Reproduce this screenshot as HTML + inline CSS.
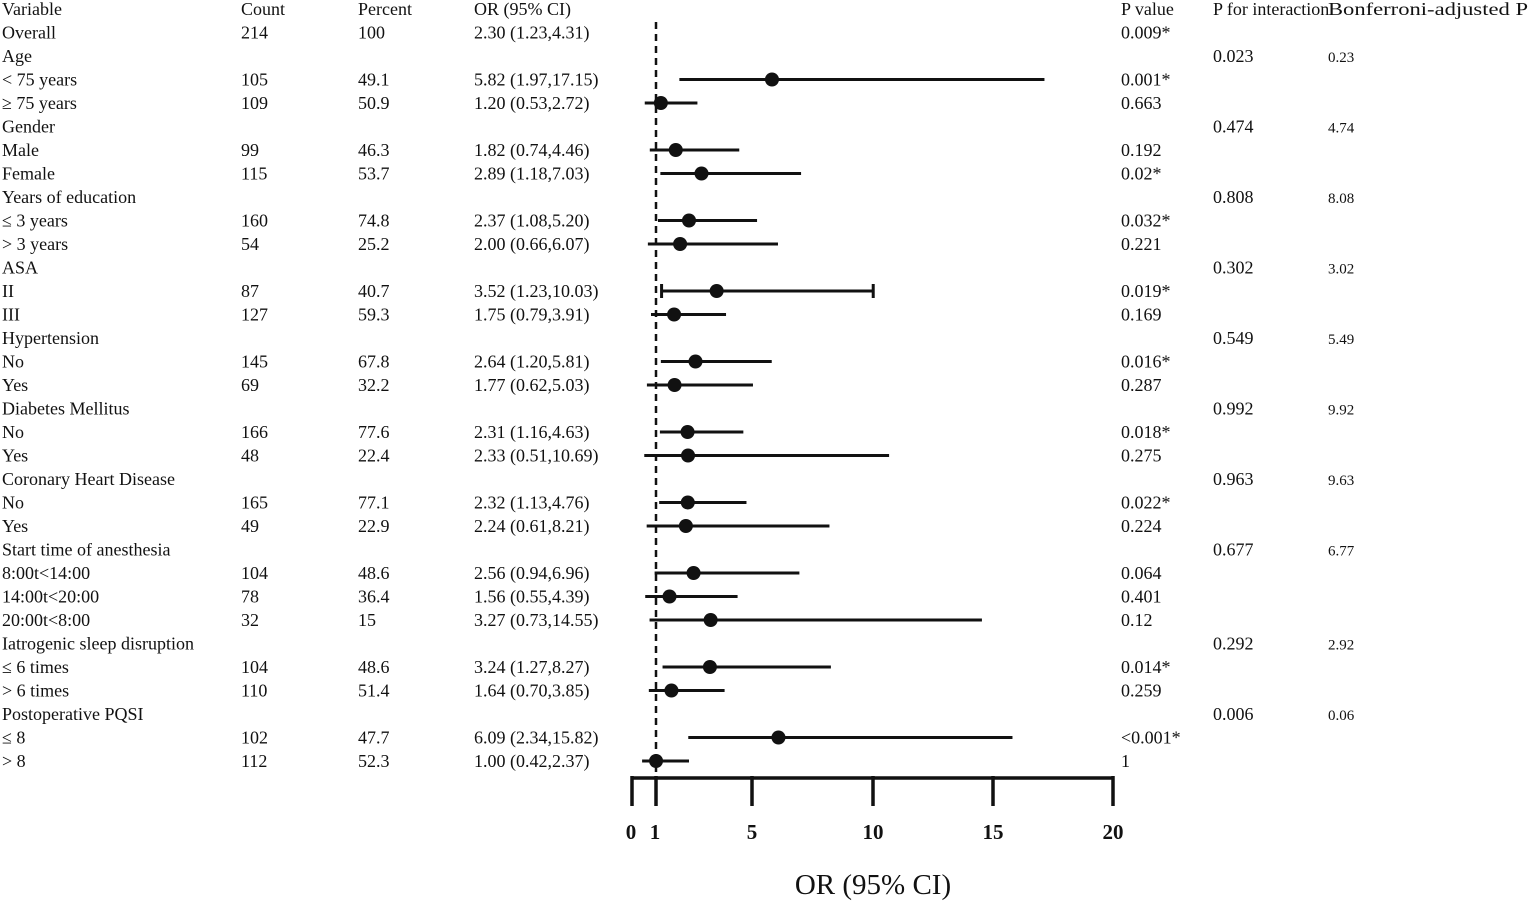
<!DOCTYPE html>
<html><head><meta charset="utf-8"><style>
html,body{margin:0;padding:0;background:#fff;}
svg{display:block;font-family:"Liberation Serif",serif;}
</style></head><body>
<svg width="1535" height="902" viewBox="0 0 1535 902" xmlns="http://www.w3.org/2000/svg" id="s">
<g font-size="18" fill="#111" id="t"></g>
<line x1="656" y1="22" x2="656" y2="772" stroke="#111" stroke-width="2.5" stroke-dasharray="7,5"/>
<g id="f" stroke="#111" stroke-width="3" fill="#111"></g>
<g stroke="#111" stroke-width="3.5" fill="none">
<line x1="632" y1="778" x2="1114" y2="778"/>
<line x1="632" y1="776" x2="632" y2="806"/>
<line x1="656" y1="776" x2="656" y2="806"/>
<line x1="752" y1="776" x2="752" y2="806"/>
<line x1="873" y1="776" x2="873" y2="806"/>
<line x1="993" y1="776" x2="993" y2="806"/>
<line x1="1113" y1="776" x2="1113" y2="806"/>
</g>
<g font-size="21" font-weight="bold" text-anchor="middle" fill="#111">
<text x="631" y="839">0</text><text x="655" y="839">1</text><text x="752" y="839">5</text>
<text x="873" y="839">10</text><text x="993" y="839">15</text><text x="1113" y="839">20</text>
</g>
<text x="873" y="894" font-size="29" text-anchor="middle" fill="#111">OR (95% CI)</text>
</svg>
<script>
var rows=[
["Variable","Count","Percent","OR (95% CI)","P value","P for interaction","Bonferroni-adjusted  P"],
["Overall","214","100","2.30 (1.23,4.31)","0.009*","",""],
["Age","","","","","0.023","0.23"],
["< 75 years","105","49.1","5.82 (1.97,17.15)","0.001*","",""],
["≥ 75 years","109","50.9","1.20 (0.53,2.72)","0.663","",""],
["Gender","","","","","0.474","4.74"],
["Male","99","46.3","1.82 (0.74,4.46)","0.192","",""],
["Female","115","53.7","2.89 (1.18,7.03)","0.02*","",""],
["Years of education","","","","","0.808","8.08"],
["≤ 3 years","160","74.8","2.37 (1.08,5.20)","0.032*","",""],
["> 3 years","54","25.2","2.00 (0.66,6.07)","0.221","",""],
["ASA","","","","","0.302","3.02"],
["II","87","40.7","3.52 (1.23,10.03)","0.019*","",""],
["III","127","59.3","1.75 (0.79,3.91)","0.169","",""],
["Hypertension","","","","","0.549","5.49"],
["No","145","67.8","2.64 (1.20,5.81)","0.016*","",""],
["Yes","69","32.2","1.77 (0.62,5.03)","0.287","",""],
["Diabetes Mellitus","","","","","0.992","9.92"],
["No","166","77.6","2.31 (1.16,4.63)","0.018*","",""],
["Yes","48","22.4","2.33 (0.51,10.69)","0.275","",""],
["Coronary Heart Disease","","","","","0.963","9.63"],
["No","165","77.1","2.32 (1.13,4.76)","0.022*","",""],
["Yes","49","22.9","2.24 (0.61,8.21)","0.224","",""],
["Start time of anesthesia","","","","","0.677","6.77"],
["8:00t<14:00","104","48.6","2.56 (0.94,6.96)","0.064","",""],
["14:00t<20:00","78","36.4","1.56 (0.55,4.39)","0.401","",""],
["20:00t<8:00","32","15","3.27 (0.73,14.55)","0.12","",""],
["Iatrogenic sleep disruption","","","","","0.292","2.92"],
["≤ 6 times","104","48.6","3.24 (1.27,8.27)","0.014*","",""],
["> 6 times","110","51.4","1.64 (0.70,3.85)","0.259","",""],
["Postoperative PQSI","","","","","0.006","0.06"],
["≤ 8","102","47.7","6.09 (2.34,15.82)","<0.001*","",""],
["> 8","112","52.3","1.00 (0.42,2.37)","1","",""]];
var xs=[2,241,358,474,1121,1213,1328],NS="http://www.w3.org/2000/svg";
var t=document.getElementById("t");
rows.forEach(function(r,i){var y=9+23.5*i+6;r.forEach(function(c,j){if(!c)return;var e=document.createElementNS(NS,"text");e.setAttribute("x",xs[j]);e.setAttribute("y",y);if(j==6&&i>0)e.setAttribute("font-size","15");if(j==6&&i==0){e.setAttribute("textLength","200");e.setAttribute("lengthAdjust","spacingAndGlyphs");}e.textContent=c;t.appendChild(e);});});
var d=[[3,5.82,1.97,17.15],[4,1.2,.53,2.72],[6,1.82,.74,4.46],[7,2.89,1.18,7.03],[9,2.37,1.08,5.2],[10,2,.66,6.07],[12,3.52,1.23,10.03],[13,1.75,.79,3.91],[15,2.64,1.2,5.81],[16,1.77,.62,5.03],[18,2.31,1.16,4.63],[19,2.33,.51,10.69],[21,2.32,1.13,4.76],[22,2.24,.61,8.21],[24,2.56,.94,6.96],[25,1.56,.55,4.39],[26,3.27,.73,14.55],[28,3.24,1.27,8.27],[29,1.64,.7,3.85],[31,6.09,2.34,15.82],[32,1,.42,2.37]];
var f=document.getElementById("f");function X(v){return 632+24.05*v;}
d.forEach(function(r){var y=9+23.5*r[0];var l=document.createElementNS(NS,"line");l.setAttribute("x1",X(r[2]));l.setAttribute("x2",X(r[3]));l.setAttribute("y1",y);l.setAttribute("y2",y);f.appendChild(l);
if(r[0]==12){[r[2],r[3]].forEach(function(v){var c=document.createElementNS(NS,"line");c.setAttribute("x1",X(v));c.setAttribute("x2",X(v));c.setAttribute("y1",y-7);c.setAttribute("y2",y+7);f.appendChild(c);});}
var c=document.createElementNS(NS,"circle");c.setAttribute("cx",X(r[1]));c.setAttribute("cy",y);c.setAttribute("r",7);c.setAttribute("stroke","none");f.appendChild(c);});
</script>
</body></html>
